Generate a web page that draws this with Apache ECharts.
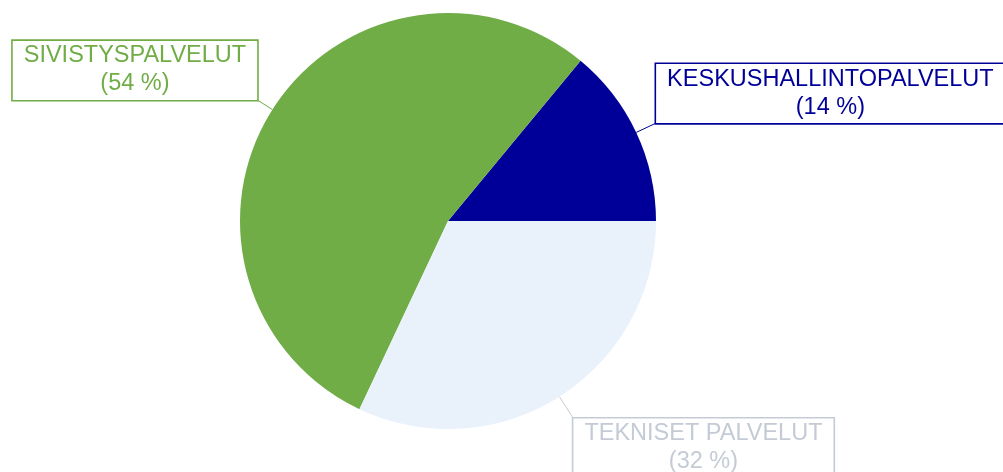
<!DOCTYPE html>
<html>
<head>
<meta charset="utf-8">
<script src="https://cdn.jsdelivr.net/npm/echarts@6/dist/echarts.min.js"></script>
<style>
  html, body { margin: 0; padding: 0; background: #fff; }
  #chart { width: 1003px; height: 472px; }
</style>
</head>
<body>
<div id="chart"></div>
<script>
// data
const categories = ["KESKUSHALLINTOPALVELUT", "SIVISTYSPALVELUT", "TEKNISET PALVELUT"];
const values = [14, 54, 32];
const sliceColors = ["#000099", "#70ad47", "#e9f1fb"];
const labelColors = ["#000099", "#70ad47", "#c4cbd5"];
const lineLengths = [22, 18, 26];

const chart = echarts.init(document.getElementById("chart"), null, { renderer: "canvas" });

chart.setOption({
  animation: false,
  series: [
    {
      type: "pie",
      center: [448, 221],
      radius: 208,
      startAngle: 0,
      clockwise: false,
      avoidLabelOverlap: false,
      data: categories.map((name, i) => ({
        name: name,
        value: values[i],
        itemStyle: { color: sliceColors[i] },
        label: {
          color: labelColors[i],
          borderColor: labelColors[i]
        },
        labelLine: { length: lineLengths[i], lineStyle: { color: labelColors[i] } }
      })),
      label: {
        show: true,
        position: "outside",
        formatter: "{t|{b}}\n{t|({d} %)}",
        backgroundColor: "#fff",
        borderWidth: 1.6,
        padding: [1, 11, 2, 11],
        fontFamily: "Liberation Sans, Arial, sans-serif",
        fontSize: 23.5,
        lineHeight: 28,
        rich: {
          t: {
            align: "center",
            fontFamily: "Liberation Sans, Arial, sans-serif",
            fontSize: 23.5,
            lineHeight: 28
          }
        }
      },
      labelLine: {
        show: true,
        length2: 0,
        smooth: false,
        lineStyle: { width: 1 }
      },
      labelLayout: function (p) {
        const pts = p.labelLinePoints;
        const a = pts[0];
        const b = pts[pts.length - 1];
        const right = b[0] > a[0];
        const down = b[1] > a[1];
        return {
          x: b[0],
          y: b[1],
          align: right ? "left" : "right",
          verticalAlign: down ? "top" : "bottom",
          labelLinePoints: [a, b]
        };
      }
    }
  ]
});
</script>
</body>
</html>
